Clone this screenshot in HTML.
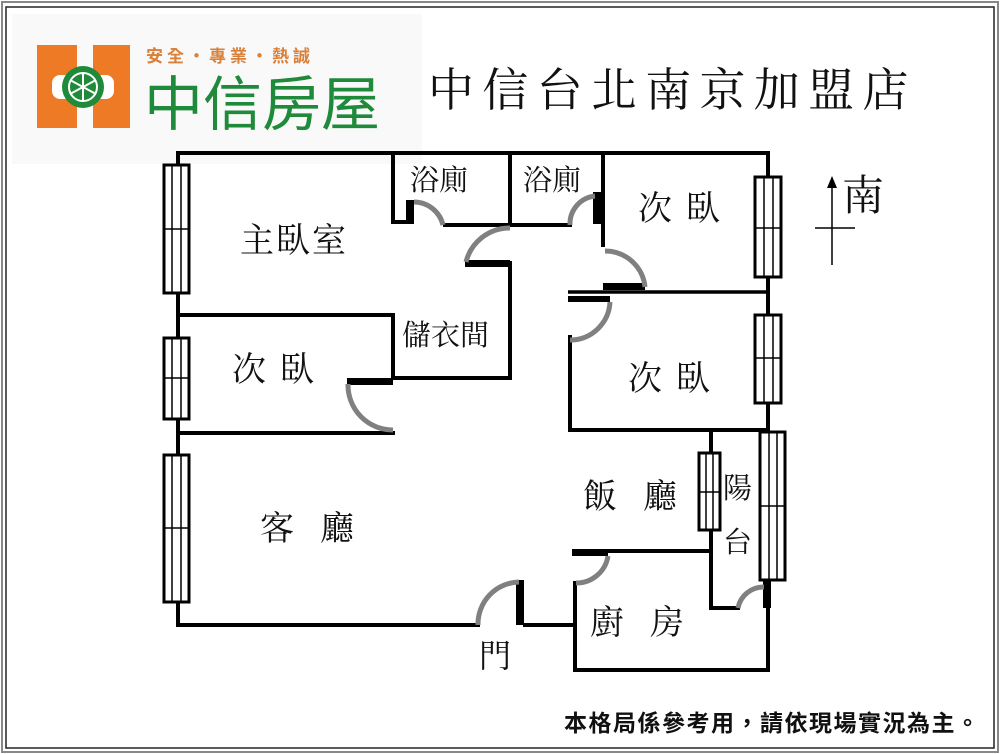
<!DOCTYPE html>
<html><head><meta charset="utf-8"><style>
html,body{margin:0;padding:0;background:#fff;}
svg{display:block;}
text{font-family:"Liberation Serif","Noto Serif CJK SC",serif;fill:#111;}
</style></head><body>
<svg width="1000" height="754" viewBox="0 0 1000 754" xmlns="http://www.w3.org/2000/svg">
<rect x="0" y="0" width="1000" height="754" fill="#fff"/>
<rect x="2" y="2" width="996" height="750" fill="none" stroke="#888" stroke-width="2"/>
<rect x="6" y="7" width="988" height="741" fill="none" stroke="#222" stroke-width="1.5"/>
<!-- logo -->
<rect x="12" y="14" width="410" height="150" fill="#f9f9f9"/>
<path d="M37 45 h40 v30 h16 v-30 h37 v83 h-37 v-32 h-16 v32 h-40z" fill="#ee7a26"/>
<rect x="52" y="75" width="62" height="24" rx="8" fill="#fff"/>
<circle cx="83" cy="87" r="21" fill="#1f8a3a"/>
<circle cx="83" cy="87" r="14" fill="none" stroke="#fff" stroke-width="2"/>
<path d="M70 80 L96 94 M70 94 L96 80 M83 73 V101" stroke="#fff" stroke-width="2"/>
<text x="146" y="62" font-size="17" font-weight="bold" style="fill:#d9813a;font-family:'Noto Sans CJK TC',sans-serif" letter-spacing="4">安全・專業・熱誠</text>
<text x="144" y="125" font-size="59" style="fill:#1f8a3a;font-family:'Noto Sans CJK TC',sans-serif">中信房屋</text>
<!-- title -->
<text x="428" y="106" font-size="46" letter-spacing="8.3" style="font-family:'Noto Serif CJK TC',serif">中信台北南京加盟店</text>
<!-- walls -->
<g stroke="#000" stroke-width="4" fill="none" stroke-linecap="square">
<path d="M178 153 H768 V670 H575 V583"/>
<path d="M178 153 V625 H478"/>
<path d="M525 625 H575"/>
<path d="M178 315 H393 V378 H510 V263"/>
<path d="M178 433 H393"/>
<path d="M393 153 V222 H410"/>
<path d="M445 225 H570"/>
<path d="M510 153 V225"/>
<path d="M603 153 V245"/>
<path d="M570 337 V430 H768"/>
<path d="M711 430 V608 H738"/>
<path d="M608 551 H711"/>
</g>
<path d="M568 292 H768" stroke="#000" stroke-width="3.5"/>
<!-- thick stubs -->
<g fill="#000">
<rect x="406" y="200" width="8" height="24"/>
<rect x="593" y="192" width="8" height="32"/>
<rect x="603" y="283" width="42" height="7"/>
<rect x="568" y="296" width="42" height="6"/>
<rect x="465" y="260" width="45" height="7"/>
<rect x="347" y="378" width="46" height="7"/>
<rect x="572" y="549" width="36" height="7"/>
<rect x="763" y="580" width="8" height="28"/>
<rect x="516" y="580" width="8" height="45"/>
</g>
<!-- door arcs -->
<g stroke="#808080" stroke-width="5" fill="none">
<path d="M414 202 A30 30 0 0 1 443 225"/>
<path d="M595 196 A28 28 0 0 0 570 225"/>
<path d="M510 228 A45 45 0 0 0 466 262"/>
<path d="M605 251 A40 40 0 0 1 645 287"/>
<path d="M570 340 A40 40 0 0 0 610 302"/>
<path d="M348 384 A45 45 0 0 0 393 430"/>
<path d="M608 556 A32 32 0 0 1 576 583"/>
<path d="M764 587 A26 26 0 0 0 738 608"/>
<path d="M519 582 A42 42 0 0 0 478 625"/>
</g>
<!-- windows -->
<g fill="#fff" stroke="#000" stroke-width="3">
<rect x="164" y="165" width="25" height="128"/>
<rect x="164" y="338" width="25" height="81"/>
<rect x="164" y="455" width="25" height="147"/>
<rect x="755" y="177" width="26" height="100"/>
<rect x="755" y="315" width="26" height="88"/>
<rect x="760" y="432" width="25" height="148"/>
<rect x="699" y="453" width="21" height="77"/>
</g>
<g stroke="#000" stroke-width="1.5">
<path d="M172 165V293 M181 165V293 M164 229H189"/>
<path d="M172 338V419 M181 338V419 M164 378H189"/>
<path d="M172 455V602 M181 455V602 M164 528H189"/>
<path d="M764 177V277 M773 177V277 M755 228H781"/>
<path d="M764 315V403 M773 315V403 M755 358H781"/>
<path d="M769 432V580 M777 432V580 M760 506H785"/>
<path d="M706 453V530 M713 453V530 M699 492H720"/>
</g>
<!-- compass -->
<g stroke="#000" stroke-width="1.5"><path d="M832 265V185 M815 228H855"/></g>
<path d="M832 176 L827 188 H837Z" fill="#000"/>
<text x="842" y="210" font-size="42">南</text>
<!-- labels -->
<g font-size="34">
<text x="240" y="252" letter-spacing="2">主臥室</text>
<text x="232" y="381" letter-spacing="14">次臥</text>
<text x="260" y="540" letter-spacing="26">客廳</text>
<text x="638" y="220" letter-spacing="14">次臥</text>
<text x="628" y="390" letter-spacing="14">次臥</text>
<text x="583" y="508" letter-spacing="26">飯廳</text>
<text x="590" y="634" letter-spacing="26">廚房</text>
</g>
<g font-size="29">
<text x="410" y="190">浴廁</text>
<text x="523" y="190">浴廁</text>
<text x="402" y="345">儲衣間</text>
<text x="723" y="498">陽</text>
<text x="723" y="552">台</text>
<text x="479" y="667" font-size="32">門</text>
</g>
<text x="564" y="731" font-size="23" font-weight="bold" letter-spacing="1.5" style="font-family:'Noto Sans CJK TC',sans-serif">本格局係參考用，請依現場實況為主。</text>
</svg>
</body></html>
